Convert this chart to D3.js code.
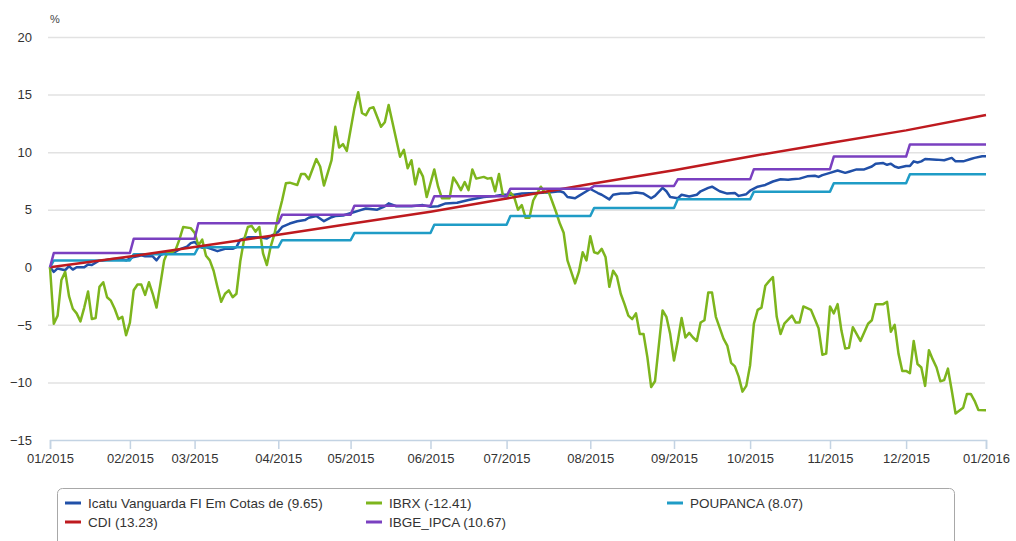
<!DOCTYPE html>
<html>
<head>
<meta charset="utf-8">
<script src="https://cdn.jsdelivr.net/npm/d3@7.9.0/dist/d3.min.js"></script>
<style>
  html, body { margin: 0; padding: 0; background: #fff; }
  svg { display: block; font-family: "Liberation Sans", Arial, sans-serif; }
  .grid line { stroke: #e2e2e2; stroke-width: 1.5; }
  .grid .domain { display: none; }
  .yaxis text { fill: #333; font-size: 13px; }
  .xaxis .domain, .xaxis line { stroke: #c3d3e3; stroke-width: 1.5; }
  .xaxis text { fill: #333; font-size: 13px; }
  .legend text { fill: #333; font-size: 13.5px; }
</style>
</head>
<body>
<svg id="chart" width="1016" height="541"></svg>
<script>
// trading-day index of the first session of each month, and its label
const monthTicks = [0, 21, 38, 60, 79, 100, 120, 142, 164, 184, 205, 225, 246];
const monthLabels = ['01/2015', '02/2015', '03/2015', '04/2015', '05/2015', '06/2015',
    '07/2015', '08/2015', '09/2015', '10/2015', '11/2015', '12/2015', '01/2016'];
const yTicks = [-15, -10, -5, 0, 5, 10, 15, 20];

// monthly accumulated levels (step series)
const ipcaLevels = [1.24, 2.47, 3.83, 4.56, 5.34, 6.17, 6.83, 7.06, 7.64, 8.52, 9.62, 10.67];
const poupancaLevels = [0.6, 1.13, 1.75, 2.35, 2.97, 3.7, 4.45, 5.15, 5.9, 6.57, 7.3, 8.07];

// CDI accumulated at each month start
const cdiPoints = [[0, 0], [21, 0.93], [38, 1.76], [60, 2.83], [79, 3.79], [100, 4.83],
    [120, 5.97], [142, 7.24], [164, 8.42], [184, 9.63], [205, 10.79], [225, 11.89], [246, 13.23]];

// fund, [trading day, %]
const icatuPoints = [
    [0, 0], [1, -0.4], [2, -0.1], [4, -0.25], [5, 0.1], [6, -0.2], [7, 0], [9, 0], [10, 0.25],
    [11, 0.2], [13, 0.6], [14, 0.6], [16, 0.7], [18, 0.75], [19, 0.7], [20, 0.6], [22, 0.9],
    [23, 0.95], [24, 1.05], [25, 0.95], [27, 0.95], [28, 0.6], [29, 1.05], [30, 1.2], [32, 1.25],
    [33, 1.35], [34, 1.55], [36, 1.8], [37, 2.1], [38, 2.2], [39, 1.9], [40, 1.7], [41, 1.75],
    [44, 1.4], [46, 1.6], [48, 1.6], [49, 1.75], [50, 2.4], [52, 2.6], [53, 2.6], [55, 2.6],
    [57, 2.5], [58, 2.7], [60, 3.1], [61, 3.5], [63, 3.8], [65, 4.0], [67, 4.1], [68, 4.3],
    [70, 4.45], [72, 4.0], [74, 4.35], [75, 4.45], [77, 4.5], [80, 4.8], [81, 4.9], [83, 5.1],
    [86, 5.0], [88, 5.3], [89, 5.55], [91, 5.3], [95, 5.3], [98, 5.4], [100, 5.25], [102, 5.3],
    [104, 5.55], [107, 5.6], [110, 5.85], [114, 6.1], [117, 6.2], [119, 6.3], [122, 6.3],
    [124, 6.4], [128, 6.45], [131, 6.5], [134, 6.6], [135, 6.5], [136, 6.1], [138, 6.0],
    [139, 6.2], [141, 6.6], [142, 6.8], [144, 6.45], [145, 6.3], [147, 5.9], [148, 6.3],
    [150, 6.4], [152, 6.4], [154, 6.5], [156, 6.4], [158, 6.0], [159, 6.2], [161, 6.9],
    [162, 6.6], [163, 6.1], [165, 6.0], [166, 6.3], [168, 6.15], [170, 6.3], [171, 6.6],
    [173, 6.9], [174, 7.0], [176, 6.6], [178, 6.4], [180, 6.45], [181, 6.2], [183, 6.35],
    [184, 6.65], [186, 7.0], [188, 7.15], [190, 7.45], [192, 7.65], [194, 7.6], [195, 7.65],
    [197, 7.7], [199, 7.9], [201, 7.95], [202, 7.85], [203, 8.0], [205, 8.2], [207, 8.4],
    [209, 8.2], [210, 8.3], [212, 8.5], [214, 8.5], [216, 8.75], [217, 9.0], [219, 9.05],
    [220, 8.9], [221, 9.0], [222, 8.75], [223, 8.65], [225, 8.8], [226, 8.8], [227, 9.2],
    [228, 9.1], [229, 9.2], [230, 9.4], [233, 9.35], [235, 9.3], [237, 9.5], [238, 9.2],
    [240, 9.2], [242, 9.4], [243, 9.5], [245, 9.65], [246, 9.65]
];

// IBRX, [trading day, %]
const ibrxPoints = [
    [0, 0], [1, -4.9], [2, -4.2], [3, -1.1], [4, -0.4], [5, -2.5], [6, -3.6], [7, -4.0],
    [8, -4.7], [9, -3.5], [10, -2.1], [11, -4.5], [12, -4.4], [13, -1.7], [14, -1.3],
    [15, -2.6], [16, -2.9], [17, -3.6], [18, -4.5], [19, -4.3], [20, -5.9], [21, -4.8],
    [22, -2.0], [23, -1.5], [24, -1.5], [25, -2.4], [26, -1.3], [27, -2.3], [28, -3.5],
    [29, -1.5], [30, 0.6], [31, 1.4], [32, 1.3], [33, 1.5], [34, 2.4], [35, 3.5], [37, 3.4],
    [38, 3.0], [39, 1.9], [40, 2.4], [41, 1.0], [42, 0.6], [43, -0.3], [44, -1.7], [45, -3.0],
    [46, -2.3], [47, -2.0], [48, -2.6], [49, -2.3], [50, 0.5], [51, 2.4], [52, 3.5], [53, 3.6],
    [54, 3.1], [55, 3.5], [56, 1.2], [57, 0.2], [58, 1.8], [59, 2.9], [60, 4.5], [61, 5.8],
    [62, 7.3], [63, 7.35], [65, 7.15], [66, 8.1], [67, 8.1], [68, 7.65], [70, 9.4], [71, 8.75],
    [72, 7.1], [74, 9.3], [75, 12.2], [76, 10.4], [77, 10.7], [78, 10.1], [80, 13.8], [81, 15.2],
    [82, 13.4], [83, 13.2], [84, 13.8], [85, 13.9], [87, 12.2], [88, 12.6], [89, 14.1],
    [91, 11.1], [92, 9.6], [93, 10.2], [94, 8.6], [95, 9.3], [96, 7.2], [97, 8.55], [98, 7.9],
    [99, 6.1], [101, 8.5], [102, 7.0], [103, 6.0], [105, 6.0], [106, 7.8], [107, 7.3],
    [108, 6.7], [109, 7.4], [110, 6.7], [111, 8.5], [112, 7.7], [114, 7.85], [115, 7.7],
    [116, 7.75], [117, 6.6], [118, 8.1], [119, 6.3], [120, 6.0], [121, 6.5], [122, 6.1],
    [123, 5.0], [124, 5.4], [125, 4.3], [126, 4.3], [127, 5.8], [129, 7.0], [130, 6.5],
    [131, 6.6], [133, 4.8], [134, 3.8], [135, 3.0], [136, 0.6], [138, -1.4], [139, -0.4],
    [140, 1.3], [141, 0.6], [142, 2.7], [143, 1.3], [144, 1.2], [145, 1.6], [146, 0.9],
    [147, -1.7], [148, -0.3], [149, -0.8], [150, -2.3], [151, -3.2], [152, -4.2], [153, -4.5],
    [154, -4.0], [155, -5.8], [156, -5.8], [157, -7.8], [158, -10.4], [159, -9.9], [161, -3.75],
    [162, -4.3], [163, -5.8], [164, -8.1], [165, -6.4], [166, -4.4], [167, -6.1], [168, -5.7],
    [169, -6.1], [170, -6.4], [171, -4.8], [172, -4.6], [173, -2.2], [174, -2.2], [175, -4.3],
    [177, -6.2], [178, -6.8], [179, -8.3], [180, -8.6], [181, -9.5], [182, -10.8], [183, -10.3],
    [184, -8.5], [185, -4.9], [186, -3.7], [187, -3.5], [188, -1.6], [189, -1.2], [190, -0.85],
    [191, -4.3], [192, -5.8], [193, -4.9], [195, -4.2], [196, -4.8], [197, -4.8], [198, -3.4],
    [200, -3.7], [201, -4.5], [202, -5.3], [203, -7.6], [204, -7.5], [205, -3.4], [206, -4.0],
    [207, -3.2], [208, -5.5], [209, -7.05], [210, -7.0], [211, -5.2], [213, -6.4], [215, -4.9],
    [216, -4.6], [217, -3.2], [219, -3.2], [220, -3.0], [221, -5.6], [222, -5.0], [223, -7.5],
    [224, -9.0], [225, -9.0], [226, -9.2], [227, -6.4], [228, -8.4], [229, -8.7], [230, -10.3],
    [231, -7.2], [232, -8.0], [233, -8.7], [234, -9.9], [235, -9.8], [236, -8.8], [237, -10.7],
    [238, -12.7], [240, -12.2], [241, -11.0], [242, -11.0], [243, -11.6], [244, -12.4],
    [246, -12.41]
];

const seriesNames = ['Icatu Vanguarda FI Em Cotas de (9.65)', 'IBRX (-12.41)', 'POUPANCA (8.07)',
    'CDI (13.23)', 'IBGE_IPCA (10.67)'];
const seriesColors = ['#2150a8', '#7db51d', '#1f9cc6', '#be1a1f', '#7a40c0'];

// month-step series: level held from each month start, one session to climb
function stepPoints(levels) {
    const pts = [[0, 0]];
    let prev = 0;
    levels.forEach((lv, i) => {
        const t = monthTicks[i];
        if (i > 0) pts.push([t, prev]);
        pts.push([t + 1, lv]);
        prev = lv;
    });
    pts.push([monthTicks[monthTicks.length - 1], prev]);
    return pts;
}

const series = [
    icatuPoints,
    ibrxPoints,
    stepPoints(poupancaLevels),
    cdiPoints,
    stepPoints(ipcaLevels),
];

const svg = d3.select('#chart');

const x = d3.scaleLinear()
    .domain([0, 246])
    .range([50, 986]);

const y = d3.scaleLinear()
    .domain([-15, 20])
    .range([440, 37]);

// Gridlines + y labels
svg.append('g')
    .attr('class', 'grid yaxis')
    .attr('transform', 'translate(48, 0)')
    .call(d3.axisLeft(y)
        .tickValues(yTicks.filter(d => d > -15))
        .tickSize(-937)
        .tickPadding(16)
        .tickFormat(d3.format('d')));

// -15 label (its gridline is the x axis)
svg.append('g')
    .attr('class', 'yaxis')
    .attr('transform', 'translate(48, 0)')
    .call(d3.axisLeft(y).tickValues([-15]).tickSize(0).tickPadding(16))
    .select('.domain').remove();

svg.append('text')
    .attr('x', 50)
    .attr('y', 23)
    .attr('fill', '#444')
    .style('font-size', '11px')
    .text('%');

// X axis
svg.append('g')
    .attr('class', 'xaxis')
    .attr('transform', `translate(0, ${y(-15)})`)
    .call(d3.axisBottom(x)
        .tickValues(monthTicks)
        .tickSize(9)
        .tickPadding(5)
        .tickFormat((d, i) => monthLabels[i]));

// Lines
const line = d3.line()
    .x(d => x(d[0]))
    .y(d => y(d[1]));

svg.append('g')
    .selectAll('path')
    .data(series)
    .join('path')
    .attr('d', line)
    .attr('fill', 'none')
    .attr('stroke', (d, i) => seriesColors[i])
    .attr('stroke-width', 2.5)
    .attr('stroke-linejoin', 'round');

// Legend
const legend = svg.append('g').attr('class', 'legend');

legend.append('rect')
    .attr('x', 57.5)
    .attr('y', 488.5)
    .attr('width', 897)
    .attr('height', 80)
    .attr('rx', 5)
    .attr('fill', '#fff')
    .attr('stroke', '#a8a8a8');

const legendCols = [65, 366, 667];
const legendRows = [503, 522];

const items = legend.selectAll('g.item')
    .data(seriesNames)
    .join('g')
    .attr('class', 'item')
    .attr('transform', (d, i) =>
        `translate(${legendCols[i % 3]}, ${legendRows[Math.floor(i / 3)]})`);

items.append('line')
    .attr('x1', 0)
    .attr('x2', 16)
    .attr('stroke', (d, i) => seriesColors[i])
    .attr('stroke-width', 3);

items.append('text')
    .attr('x', 23)
    .attr('dy', '0.35em')
    .text(d => d);
</script>
</body>
</html>
